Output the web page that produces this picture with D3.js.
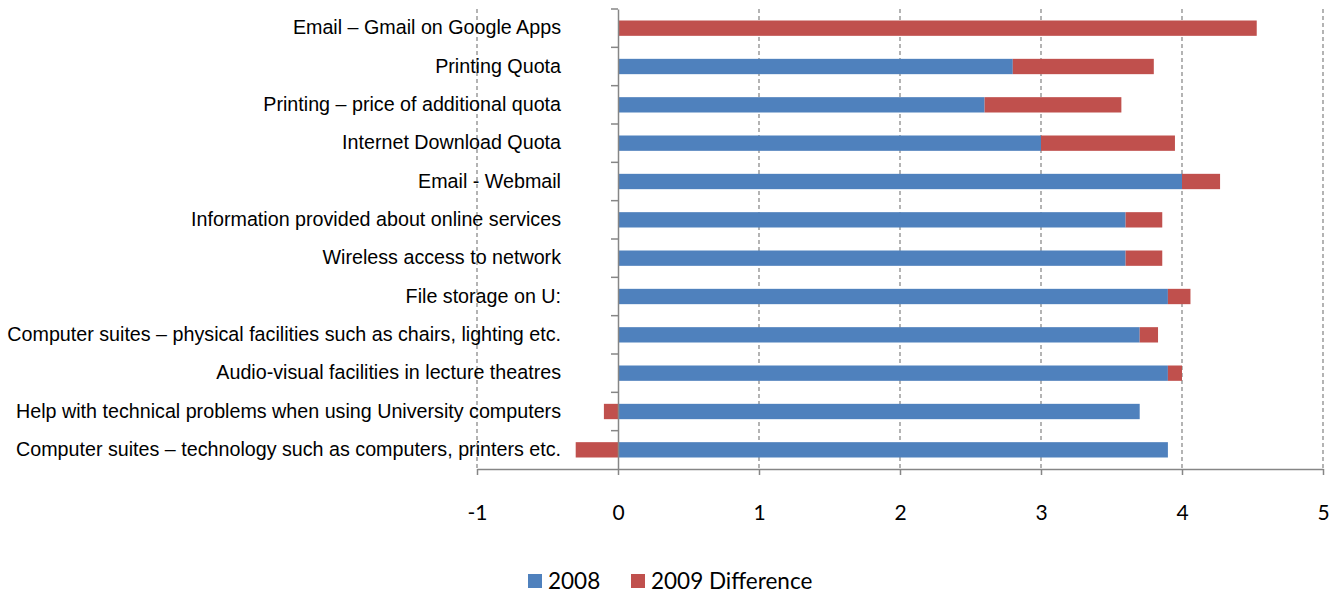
<!DOCTYPE html>
<html>
<head>
<meta charset="utf-8">
<script src="https://cdn.jsdelivr.net/npm/d3@7"></script>
<style>
  body { margin: 0; background: #fff; }
  svg { display: block; }
</style>
</head>
<body>
<div class="vis-bars"></div>
<script>
// data
const categories = [
    "Email – Gmail on Google Apps",
    "Printing Quota",
    "Printing – price of additional quota",
    "Internet Download Quota",
    "Email - Webmail",
    "Information provided about online services",
    "Wireless access to network",
    "File storage on U:",
    "Computer suites – physical facilities such as chairs, lighting etc.",
    "Audio-visual facilities in lecture theatres",
    "Help with technical problems when using University computers",
    "Computer suites – technology such as computers, printers etc."
];
const values2008 = [0, 2.80, 2.60, 3.00, 4.00, 3.60, 3.60, 3.90, 3.70, 3.90, 3.70, 3.90];
const diff2009 = [4.53, 1.00, 0.97, 0.95, 0.27, 0.26, 0.26, 0.16, 0.13, 0.10, -0.10, -0.30];
const seriesNames = ["2008", "2009 Difference"];
const xTicks = [-1, 0, 1, 2, 3, 4, 5];

const draw = () => {
    const W = 1342, H = 594;
    let margin = { top: 9, right: 19, bottom: 125, left: 477 };
    const width = W - margin.left - margin.right;
    const height = H - margin.top - margin.bottom;

    let svg = d3.select(".vis-bars")
        .append("svg")
        .attr("width", W)
        .attr("height", H)
        .append("g")
        .attr("transform", "translate(" + margin.left + "," + margin.top + ")");

    const rows = categories.map((c, i) => ({ cat: c, a: values2008[i], b: diff2009[i] }));

    const stacked = d3.stack()
        .keys(["a", "b"])
        .offset(d3.stackOffsetDiverging)(rows);

    let x = d3.scaleLinear().domain([-1, 5]).range([0, width]);
    let y = d3.scaleBand().domain(categories).range([0, height])
        .paddingInner(0.6).paddingOuter(0.3);
    let color = d3.scaleOrdinal().domain(["a", "b"]).range(["#4F81BD", "#C0504D"]);

    // dashed gridlines
    svg.append("g")
        .selectAll("line")
        .data(xTicks.filter(d => d !== 0))
        .enter()
        .append("line")
        .attr("x1", d => x(d)).attr("x2", d => x(d))
        .attr("y1", 0).attr("y2", height)
        .attr("stroke", "#8c8c8c")
        .attr("stroke-width", 1.3)
        .attr("stroke-dasharray", "4,3");

    // bars
    svg.append("g")
        .selectAll("g")
        .data(stacked)
        .enter()
        .append("g")
        .attr("fill", d => color(d.key))
        .selectAll("rect")
        .data(d => d)
        .enter()
        .append("rect")
        .attr("x", d => x(Math.min(d[0], d[1])))
        .attr("width", d => Math.abs(x(d[1]) - x(d[0])))
        .attr("y", d => y(d.data.cat))
        .attr("height", y.bandwidth());

    // x axis
    let xAxis = svg.append("g")
        .attr("transform", "translate(0," + height + ")")
        .call(d3.axisBottom(x).tickValues(xTicks).tickFormat(d => String(d))
            .tickSize(6).tickSizeOuter(0).tickPadding(30));
    xAxis.select(".domain").attr("stroke", "#868686").attr("stroke-width", 1.5);
    xAxis.selectAll(".tick line").attr("stroke", "#868686").attr("stroke-width", 1.5);
    xAxis.selectAll(".tick text")
        .style("font-family", "Lato, 'Open Sans', sans-serif")
        .style("font-size", "21px")
        .attr("fill", "#000");

    // y axis at zero
    let yAxis = svg.append("g")
        .attr("transform", "translate(" + x(0) + ",0)")
        .call(d3.axisLeft(y).tickSize(0).tickSizeOuter(0).tickPadding(57));
    yAxis.select(".domain").attr("stroke", "#868686").attr("stroke-width", 1.5);
    yAxis.selectAll(".tick text")
        .style("font-family", "'Liberation Sans', Arial, sans-serif")
        .style("font-size", "19.7px")
        .attr("fill", "#000");

    // category boundary ticks
    let yb = d3.scaleLinear().domain([0, categories.length]).range([0, height]);
    svg.append("g")
        .selectAll("line")
        .data(d3.range(categories.length))
        .enter()
        .append("line")
        .attr("x1", x(0) - 7).attr("x2", x(0))
        .attr("y1", d => yb(d)).attr("y2", d => yb(d))
        .attr("stroke", "#868686")
        .attr("stroke-width", 1.5);

    // legend
    let legend = d3.select(".vis-bars svg").append("g")
        .attr("transform", "translate(528,581)");
    const legendX = [0, 103];
    seriesNames.forEach((name, i) => {
        let g = legend.append("g").attr("transform", "translate(" + legendX[i] + ",0)");
        g.append("rect")
            .attr("x", 0).attr("y", -7)
            .attr("width", 14).attr("height", 14)
            .attr("fill", color(["a", "b"][i]));
        g.append("text")
            .attr("x", 20).attr("y", 0)
            .attr("dy", "0.35em")
            .style("font-family", "Lato, 'Open Sans', sans-serif")
            .style("font-size", "22.5px")
            .text(name);
    });
}

draw();
</script>
</body>
</html>
